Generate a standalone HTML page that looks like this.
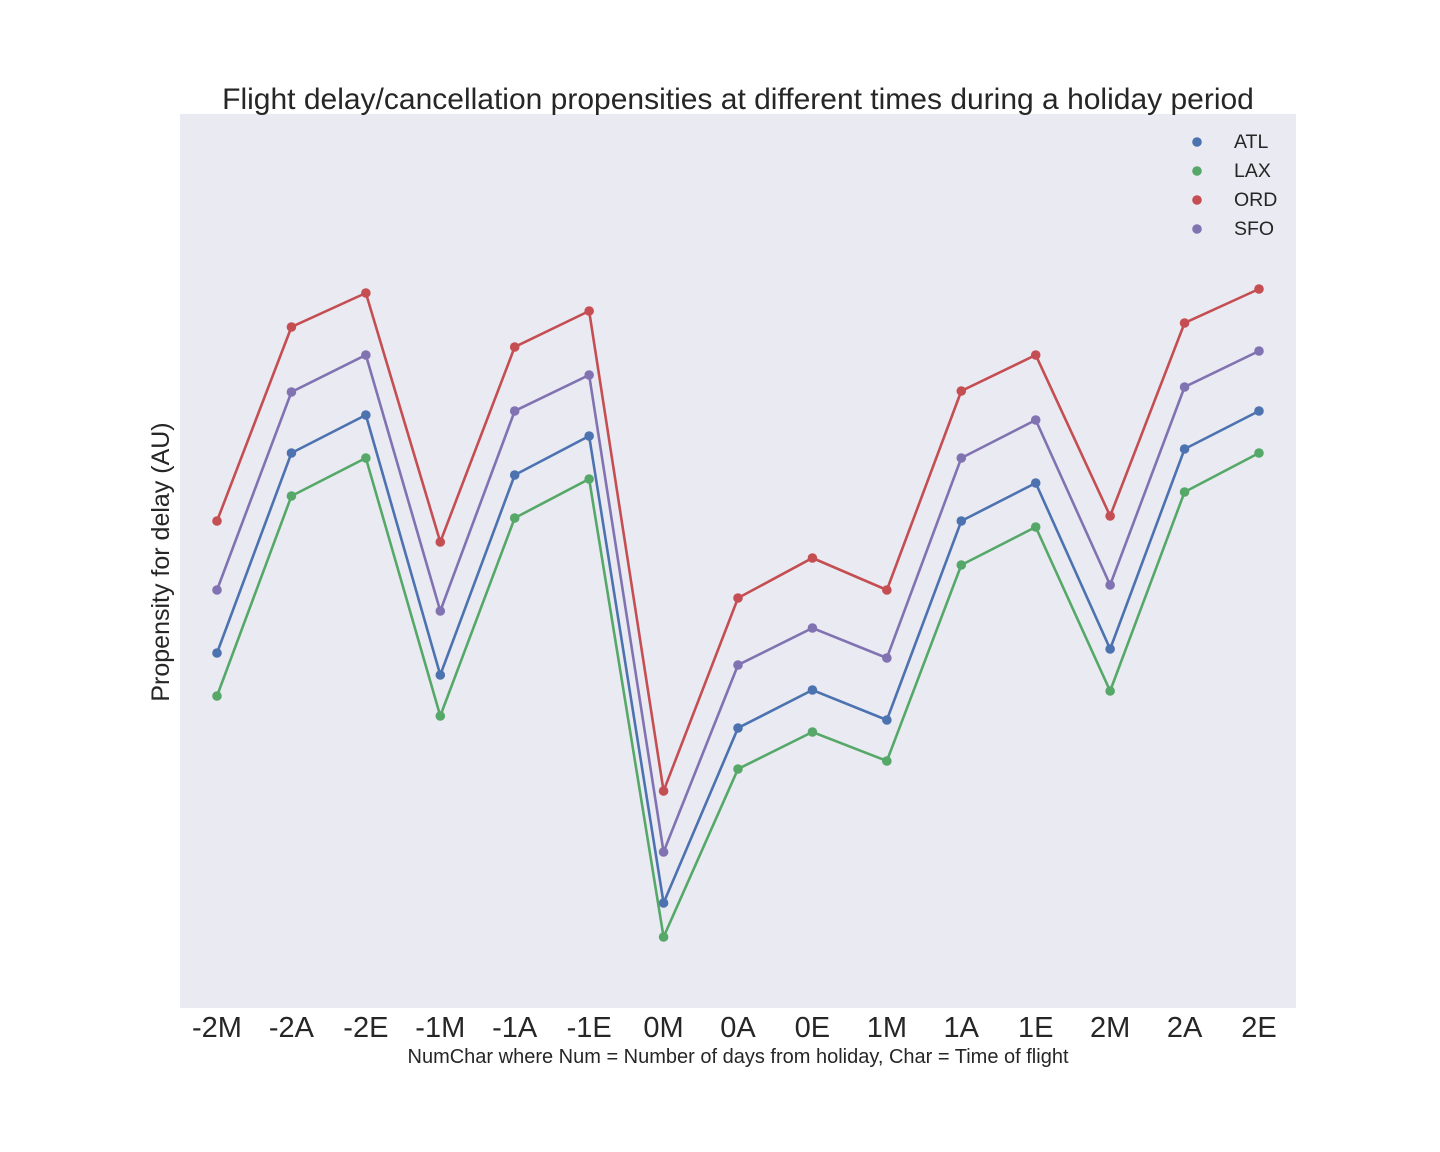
<!DOCTYPE html>
<html><head><meta charset="utf-8">
<style>
body{margin:0;background:#fff;}
svg{display:block;font-family:"Liberation Sans",Arial,sans-serif;}
</style></head>
<body>
<svg id="chart" width="1440" height="1152">
<rect x="180" y="114" width="1116" height="894" fill="#EAEAF2"/>
<text x="738" y="109" text-anchor="middle" font-size="30" fill="#262626">Flight delay/cancellation propensities at different times during a holiday period</text>
<text x="738" y="1063" text-anchor="middle" font-size="20" fill="#262626">NumChar where Num = Number of days from holiday, Char = Time of flight</text>
<text transform="translate(169,562) rotate(-90)" text-anchor="middle" font-size="25" fill="#262626">Propensity for delay (AU)</text>
<g id="xticks"></g>
<g id="series"></g>
<g id="legend"></g>
</svg>
<script>
const categories=["-2M","-2A","-2E","-1M","-1A","-1E","0M","0A","0E","1M","1A","1E","2M","2A","2E"];
const seriesNames=["ATL","LAX","ORD","SFO"];
const atl=[355,555,593,333,533,572,105,280,318,288,487,525,359,559,597];
const lax=[312,512,550,292,490,529,71,239,276,247,443,481,317,516,555];
const ord=[487,681,715,466,661,697,217,410,450,418,617,653,492,685,719];
const sfo=[418,616,653,397,597,633,156,343,380,350,550,588,423,621,657];
const colors=["#4C72B0","#55A868","#C44E52","#8172B2"];
const ns="http://www.w3.org/2000/svg";
const xs=i=>217+i*(1259-217)/(categories.length-1);
const ys=v=>1008-v;
const xt=document.getElementById("xticks");
categories.forEach((c,i)=>{
  const t=document.createElementNS(ns,"text");
  
  
  t.setAttribute("x",xs(i));t.setAttribute("y",1037);
  t.setAttribute("text-anchor","middle");t.setAttribute("font-size","29");t.setAttribute("fill","#262626");
  t.textContent=c;xt.appendChild(t);
});
const sg=document.getElementById("series");
[atl,lax,ord,sfo].forEach((vals,s)=>{
  const g=document.createElementNS(ns,"g");
  
  
  const p=document.createElementNS(ns,"polyline");
  
  
  p.setAttribute("points",vals.map((v,i)=>xs(i)+","+ys(v)).join(" "));
  p.setAttribute("fill","none");p.setAttribute("stroke",colors[s]);p.setAttribute("stroke-width","2.6");
  g.appendChild(p);
  vals.forEach((v,i)=>{
    const c=document.createElementNS(ns,"circle");
    
    
    c.setAttribute("cx",xs(i));c.setAttribute("cy",ys(v));c.setAttribute("r","4.8");c.setAttribute("fill",colors[s]);
    g.appendChild(c);
  });
  sg.appendChild(g);
});
const lg=document.getElementById("legend");
seriesNames.forEach((n,s)=>{
  const y=140+s*29;
  const g=document.createElementNS(ns,"g");
  
  
  const c=document.createElementNS(ns,"circle");
  c.setAttribute("cx",1197);c.setAttribute("cy",y+2);c.setAttribute("r","4.8");c.setAttribute("fill",colors[s]);
  const t=document.createElementNS(ns,"text");
  t.setAttribute("x",1234);t.setAttribute("y",y+8);t.setAttribute("font-size","19.5");t.setAttribute("fill","#262626");
  t.textContent=n;
  g.appendChild(c);g.appendChild(t);lg.appendChild(g);
});
</script>
</body></html>
